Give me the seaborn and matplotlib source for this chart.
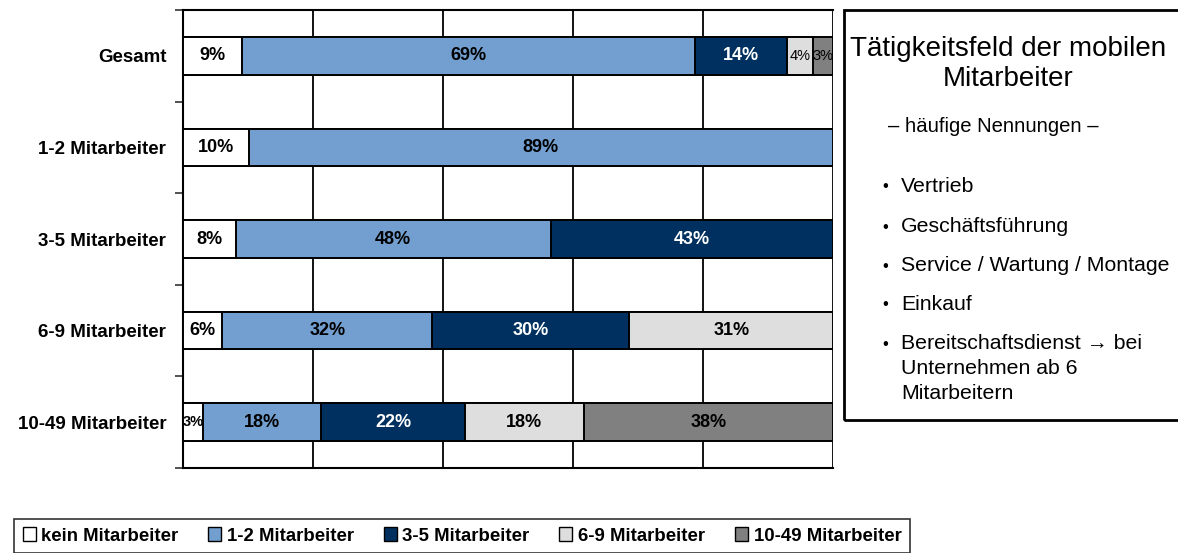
import matplotlib
matplotlib.use("Agg")
import matplotlib.pyplot as plt
import seaborn as sns
import numpy as np
import pandas as pd
from matplotlib.patches import Rectangle, Patch

# ---- data ----
categories = ["Gesamt", "1-2 Mitarbeiter", "3-5 Mitarbeiter", "6-9 Mitarbeiter", "10-49 Mitarbeiter"]
series_names = ["kein Mitarbeiter", "1-2 Mitarbeiter", "3-5 Mitarbeiter", "6-9 Mitarbeiter", "10-49 Mitarbeiter"]
kein = [9, 10, 8, 6, 3]
m1_2 = [69, 89, 48, 32, 18]
m3_5 = [14, 0, 43, 30, 22]
m6_9 = [4, 0, 0, 31, 18]
m10_49 = [3, 0, 0, 0, 38]

info_title = "Tätigkeitsfeld der mobilen\nMitarbeiter"
info_sub = "– häufige Nennungen –"
info_items = ["Vertrieb", "Geschäftsführung", "Service / Wartung / Montage", "Einkauf",
              "Bereitschaftsdienst \u2192 bei\nUnternehmen ab 6\nMitarbeitern"]

colors = ["#FFFFFF", "#729FCF", "#00305F", "#DEDEDE", "#808080"]
text_colors = ["black", "black", "white", "black", "black"]

sns.set_theme(style="white")
plt.rcParams["font.family"] = ["Liberation Sans", "DejaVu Sans"]
plt.rcParams["text.color"] = "black"
plt.rcParams["axes.labelcolor"] = "black"
plt.rcParams["xtick.color"] = "black"
plt.rcParams["ytick.color"] = "black"

W, H = 1178, 553
fig = plt.figure(figsize=(W / 100, H / 100), dpi=100)
ax = fig.add_axes([183 / W, 1 - 468 / H, (833 - 183) / W, (468 - 10) / H])

vals = np.array([kein, m1_2, m3_5, m6_9, m10_49], dtype=float)
totals = vals.sum(axis=0)
norm = vals / totals * 100  # stacked bars fill the full 100%
cum = np.cumsum(norm, axis=0)

# draw cumulative bars from the largest to the smallest so each overlays
for i in range(len(series_names) - 1, -1, -1):
    df = pd.DataFrame({"cat": categories, "val": cum[i]})
    sns.barplot(data=df, x="val", y="cat", orient="h", color=colors[i],
                edgecolor="black", linewidth=1.4, width=0.41, saturation=1,
                ax=ax, zorder=3)

# labels
for i in range(len(series_names)):
    for j, cat in enumerate(categories):
        v = vals[i, j]
        if v <= 0:
            continue
        left = cum[i, j] - norm[i, j]
        xc = left + norm[i, j] / 2
        small = norm[i, j] < 5
        if small and i >= 3:
            ax.text(xc, j, f"{int(v)}%", ha="center", va="center", fontsize=10.5,
                    color=text_colors[i], zorder=5)
        elif small:
            ax.text(xc, j, f"{int(v)}%", ha="center", va="center", fontsize=10.5,
                    fontweight="bold", color=text_colors[i], zorder=5)
        else:
            ax.text(xc, j, f"{int(v)}%", ha="center", va="center", fontsize=13,
                    fontweight="bold", color=text_colors[i], zorder=5)

ax.set_xlim(0, 100)
ax.set_ylim(len(categories) - 0.5, -0.5)
ax.set_xlabel("")
ax.set_ylabel("")
ax.set_xticks([0, 20, 40, 60, 80, 100])
ax.set_xticklabels([])
ax.tick_params(axis="x", length=0)
ax.xaxis.grid(True, color="black", linewidth=1.3, zorder=0)
ax.set_axisbelow(True)
ax.yaxis.grid(False)

ax.set_yticks(range(len(categories)))
ax.set_yticklabels(categories, fontsize=13.5, fontweight="bold", color="black")
ax.tick_params(axis="y", which="major", length=0, pad=12)
ax.set_yticks(np.arange(-0.5, len(categories), 1.0), minor=True)
ax.tick_params(axis="y", which="minor", length=6, width=1.2, color="#333333", left=True)

for side in ["top", "bottom", "left"]:
    ax.spines[side].set_visible(True)
    ax.spines[side].set_color("black")
    ax.spines[side].set_linewidth(1.5)
ax.spines["right"].set_visible(False)

# legend
handles = [Patch(facecolor=c, edgecolor="black", linewidth=1.0) for c in colors]
leg = fig.legend(handles, series_names, loc="center", bbox_to_anchor=(462 / W, 1 - 536 / H),
                 ncol=5, frameon=True, fancybox=False, handlelength=0.7, handleheight=0.7,
                 handletextpad=0.3, columnspacing=1.6, borderpad=0.45,
                 prop={"weight": "bold", "size": 13.4})
leg.get_frame().set_edgecolor("black")
leg.get_frame().set_linewidth(1.2)
for t in leg.get_texts():
    t.set_color("black")

# info box on the right
fig.patches.append(Rectangle((844 / W, 1 - 420 / H), (1190 - 844) / W, (420 - 10) / H,
                             transform=fig.transFigure, fill=False, edgecolor="black",
                             linewidth=2.0))
fig.text(1008 / W, 1 - 64 / H, info_title, ha="center", va="center", fontsize=20,
         multialignment="center", linespacing=1.25, color="black")
fig.text(993 / W, 1 - 126 / H, info_sub, ha="center", va="center", fontsize=14.6, color="black")
ys = [187, 227, 266, 305, 344]
for y, item in zip(ys, info_items):
    fig.text(885 / W, 1 - y / H, "•", ha="center", va="center", fontsize=12, color="black")
    fig.text(901 / W, 1 - (y - 10) / H, item, ha="left", va="top", fontsize=15.3,
             linespacing=1.4, color="black")

fig.savefig("out.png", dpi=100)
